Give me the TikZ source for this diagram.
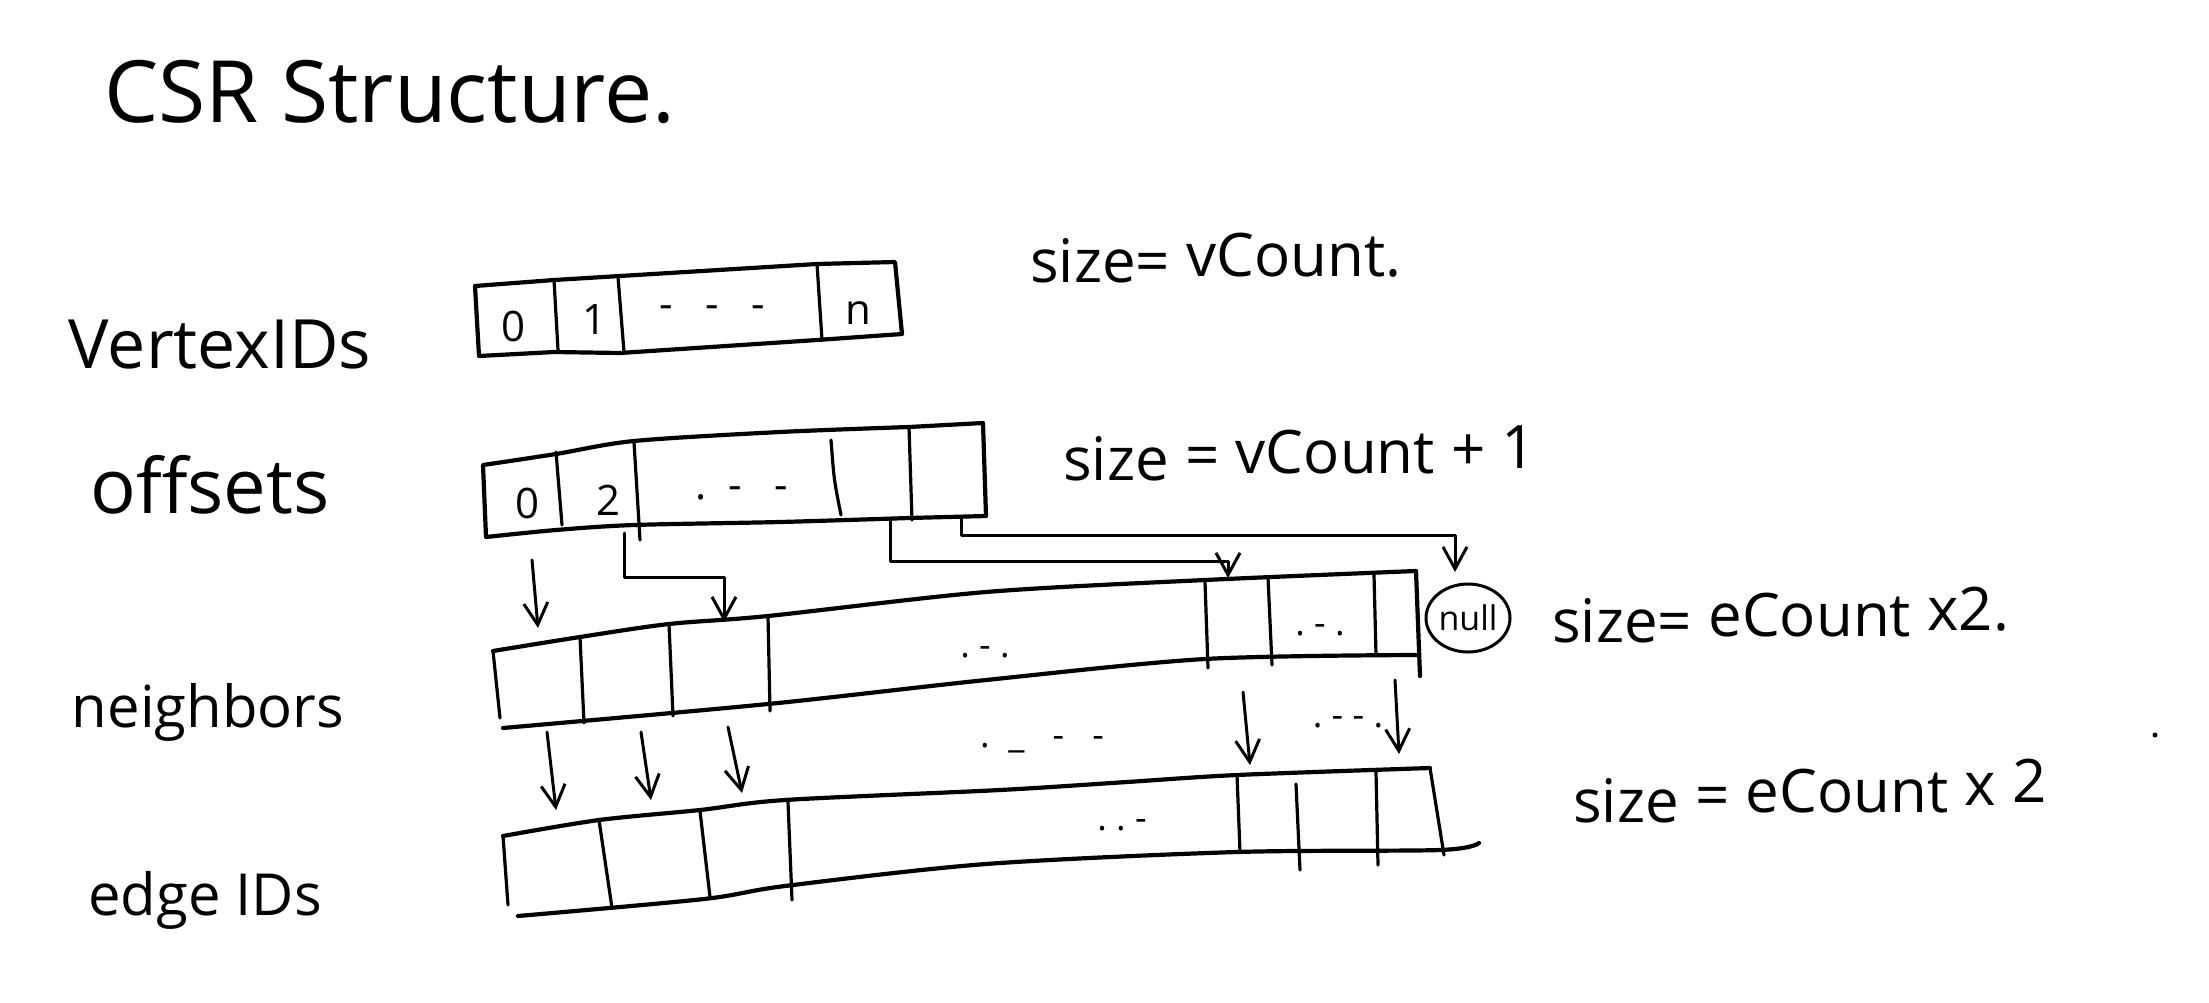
\documentclass[tikz,border=0pt]{standalone}
\usepackage{fontspec}
\setmainfont{Open Sans}
\usetikzlibrary{arrows.meta,shapes.geometric}
\begin{document}
\begin{tikzpicture}[x=1pt,y=-1pt,line cap=round,line join=round,
  outline/.style={line width=4.2pt},
  divider/.style={line width=3.2pt},
  conn/.style={line width=3pt,-{Straight Barb[length=22pt,width=24pt,line width=3pt]}},
  title/.style={font=\fontsize{86}{90}\selectfont,inner sep=0pt},
  lbl/.style={font=\fontsize{66}{70}\selectfont,inner sep=0pt},
  sizelbl/.style={font=\fontsize{60}{64}\selectfont,inner sep=0pt,anchor=base west},
  cell/.style={font=\fontsize{42}{46}\selectfont,inner sep=0pt},
  dotstxt/.style={font=\fontsize{36}{40}\selectfont,inner sep=0pt}]
\useasboundingbox (0,0) rectangle (2209,1002);

% title and row labels
\node[title] (ttl) at (390,92) {CSR Structure.};
\node[lbl,font=\fontsize{68}{72}\selectfont] (lv) at (220,345) {VertexIDs};
\node[lbl,font=\fontsize{76}{80}\selectfont] (lo) at (210,485) {offsets};
\node[lbl,font=\fontsize{58}{62}\selectfont] (ln) at (208,712) {neighbors};
\node[lbl,font=\fontsize{58}{62}\selectfont] (le) at (205,900) {edge IDs};

% size labels (words stepping slightly upward like the slanted handwriting)
\node[sizelbl] (s1a) at (1030,282) {size=};
\node[sizelbl] (s1b) at ([xshift=16pt,yshift=6pt]s1a.base east) {vCount.};

\node[sizelbl] (s2a) at (1063,480) {size};
\node[sizelbl] (s2b) at ([xshift=16pt,yshift=4pt]s2a.base east) {=};
\node[sizelbl] (s2c) at ([xshift=16pt,yshift=3pt]s2b.base east) {vCount};
\node[sizelbl] (s2d) at ([xshift=16pt,yshift=3pt]s2c.base east) {+};
\node[sizelbl] (s2e) at ([xshift=16pt,yshift=2pt]s2d.base east) {1};

\node[sizelbl] (s3a) at (1552,642) {size=};
\node[sizelbl] (s3b) at ([xshift=16pt,yshift=6pt]s3a.base east) {eCount};
\node[sizelbl] (s3c) at ([xshift=16pt,yshift=6pt]s3b.base east) {x2.};

\node[sizelbl] (s4a) at (1573,822) {size};
\node[sizelbl] (s4b) at ([xshift=16pt,yshift=6pt]s4a.base east) {=};
\node[sizelbl] (s4c) at ([xshift=16pt,yshift=4pt]s4b.base east) {eCount};
\node[sizelbl] (s4d) at ([xshift=16pt,yshift=7pt]s4c.base east) {x};
\node[sizelbl] (s4e) at ([xshift=16pt,yshift=3pt]s4d.base east) {2};
\fill (2155,735) circle (2.5pt);

% VertexIDs array
\draw[outline] (475,286) -- (554,280) -- (620,276) -- (817,264) -- (895,262)
  -- (902,334) -- (817,340) -- (620,353) -- (554,352) -- (479,356) -- cycle;
\draw[divider] (554,280) -- (558,350);
\draw[divider] (618,277) -- (624,352);
\draw[divider] (817,264) -- (822,340);
\node[cell] (v0) at (514,326) {0};
\node[cell] (v1) at (595,320) {1};
\node[cell] (vd) at (712,312) {-\ \ \ -\ \ \ -};
\node[cell] (vn) at (858,313) {n};

% offsets array
\draw[outline] plot[smooth] coordinates {(483,465) (556,454) (634,441) (780,432) (909,427)}
  -- (983,423) -- (986,516)
  -- plot[smooth] coordinates {(909,518) (780,522) (634,525) (556,530) (486,537)} -- cycle;
\draw[divider] (556,452) -- (562,525);
\draw[divider] (634,442) -- (640,540);
\draw[divider] (831,440) .. controls (834,480) .. (841,515);
\draw[divider] (909,427) -- (912,520);
\node[cell] (o0) at (528,503) {0};
\node[cell] (o2) at (609,500) {2};
\node[cell] (od) at (742,493) {.\ \ -\ \ \ -};

% neighbors array
\draw[outline] plot[smooth] coordinates {(493,651) (580,637) (669,624) (768,616) (986,592) (1205,580) (1416,571)};
\draw[outline] plot[smooth] coordinates {(503,728) (768,704) (986,680) (1205,659) (1416,655)};
\draw[divider] (493,651) -- (500,718);
\draw[outline] (1416,571) -- (1420,676);
\draw[divider] (580,637) -- (584,723);
\draw[divider] (669,624) -- (673,716);
\draw[divider] (768,616) -- (770,711);
\draw[divider] (1205,582) -- (1208,668);
\draw[divider] (1268,578) -- (1272,665);
\draw[divider] (1374,575) -- (1376,655);
\node[dotstxt] (nd1) at (985,652) {.\ -\ .};
\node[dotstxt] (nd2) at (1320,630) {.\ -\ .};
\node[draw,ellipse,line width=3pt,minimum width=84pt,minimum height=68pt,inner sep=0pt,
  font=\fontsize{34}{34}\selectfont] (null) at (1468,618) {null};

% edge IDs array
\draw[outline] plot[smooth] coordinates {(503,836) (599,820) (700,810) (785,800) (1000,790) (1127,782) (1237,775) (1430,768)};
\draw[outline] plot[smooth] coordinates {(518,916) (704,899) (785,886) (986,864) (1237,852) (1440,850) (1479,843)};
\draw[divider] (503,836) -- (508,905);
\draw[divider] (599,820) -- (612,908);
\draw[divider] (700,811) -- (710,897);
\draw[divider] (788,802) -- (792,900);
\draw[divider] (1237,775) -- (1240,852);
\draw[divider] (1296,784) -- (1300,870);
\draw[divider] (1376,772) -- (1378,865);
\draw[divider] (1430,768) -- (1444,855);
\node[dotstxt] (ed) at (1122,825) {.\ .\ -};

% dots between neighbors and edge IDs
\node[dotstxt] (md1) at (1042,745) {.\ \ \_\ \ \ -\ \ \ -};
\node[dotstxt] (md2) at (1348,722) {.\ -\ -\ .};

% connectors offsets -> neighbors
\coordinate (o0s) at (532,560);
\coordinate (n0t) at (538,628);
\coordinate (o1s) at (624,533);
\coordinate (n1t) at (724,622);
\coordinate (o2s) at (890,518);
\coordinate (n4t) at (1228,578);
\coordinate (o3s) at (961,518);
\coordinate (nullt) at (1455,572);
\draw[conn] (o0s) -- (n0t);
\draw[conn] (o1s) -- ++(0,44) -| (n1t);
\draw[conn] (o2s) -- ++(0,43) -| (n4t);
\draw[conn] (o3s) -- ++(0,17) -| (nullt);

% connectors neighbors -> edge IDs
\coordinate (nb0) at (547,732); \coordinate (e0) at (556,810);
\coordinate (nb1) at (641,732); \coordinate (e1) at (651,800);
\coordinate (nb2) at (728,727); \coordinate (e2) at (742,793);
\coordinate (nb3) at (1243,692); \coordinate (e3) at (1250,765);
\coordinate (nb4) at (1395,680); \coordinate (e4) at (1399,754);
\draw[conn] (nb0) -- (e0);
\draw[conn] (nb1) -- (e1);
\draw[conn] (nb2) -- (e2);
\draw[conn] (nb3) -- (e3);
\draw[conn] (nb4) -- (e4);
\end{tikzpicture}
\end{document}
